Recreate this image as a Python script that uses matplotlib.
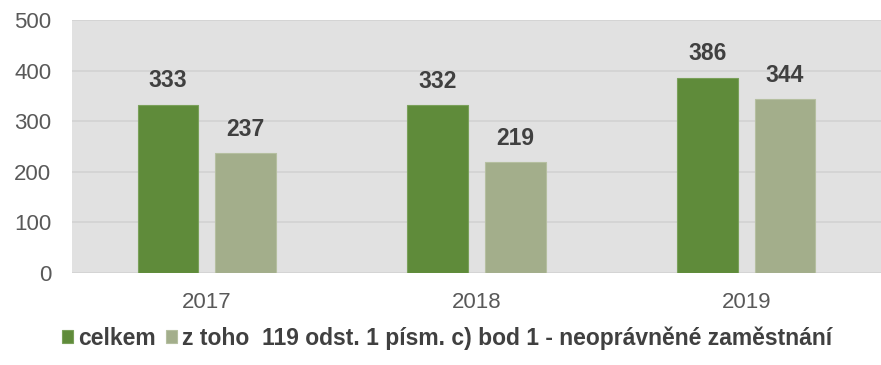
import matplotlib.pyplot as plt
import numpy as np

roky = ["2017", "2018", "2019"]
celkem = [333, 332, 386]
z_toho = [237, 219, 344]
nazvy = ["celkem", "z toho  119 odst. 1 písm. c) bod 1 - neoprávněné zaměstnání"]

plt.rcParams["font.family"] = ["Liberation Sans", "DejaVu Sans"]

fig = plt.figure(figsize=(8.81, 3.65), dpi=100)
ax = fig.add_axes([72 / 881, 1 - 273 / 365, 1 - 72 / 881, 253 / 365])
ax.set_facecolor("#e1e1e1")

x = np.arange(len(roky))
sirka = 0.225
mezera = 0.063
b1 = ax.bar(x - (sirka + mezera) / 2, celkem, sirka, color="#5f8b3a",
            edgecolor="#7aa05a", linewidth=0.8, label=nazvy[0], zorder=3)
b2 = ax.bar(x + (sirka + mezera) / 2, z_toho, sirka, color="#a3ae8b",
            edgecolor="#b5bfa0", linewidth=0.8, label=nazvy[1], zorder=3)

for bars in (b1, b2):
    for b in bars:
        ax.text(b.get_x() + b.get_width() / 2, b.get_height() + 47, f"{int(b.get_height())}",
                ha="center", va="center", fontsize=16.5, fontweight="bold", color="#404040")

ax.set_xlim(-0.5, 2.5)
ax.set_ylim(0, 500)
ax.set_yticks(range(0, 501, 100))
ax.set_xticks(x)
ax.set_xticklabels(roky)
ax.tick_params(axis="both", length=0, labelsize=16, labelcolor="#595959")
ax.tick_params(axis="y", pad=15)
ax.tick_params(axis="x", pad=14)
ax.grid(axis="y", color="#d2d2d2", linewidth=1.2, zorder=0)
ax.set_axisbelow(True)
for s in ax.spines.values():
    s.set_visible(False)

fig.legend(loc="center", bbox_to_anchor=(0.507, 1 - 338 / 365), ncol=2, frameon=False,
           prop={"weight": "bold", "size": 16.5}, labelcolor="#404040",
           handlelength=0.5, handleheight=0.5, handletextpad=0.2, columnspacing=0.45)

plt.savefig("out.png", dpi=100)
